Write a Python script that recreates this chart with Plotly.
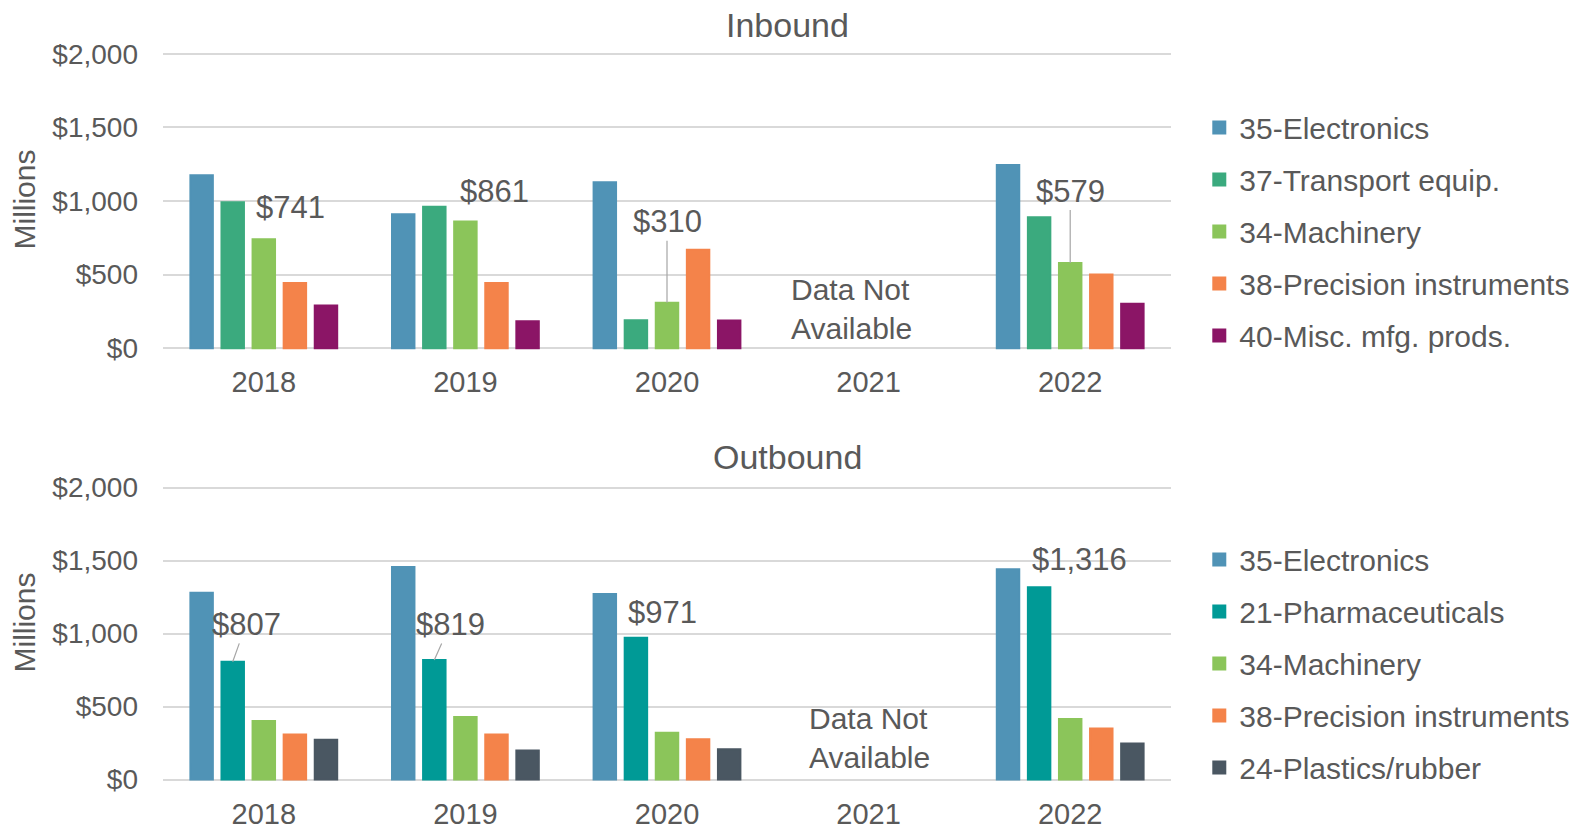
import plotly.graph_objects as go

years = ["2018", "2019", "2020", "2021", "2022"]

# Inbound (millions of dollars)
in_names = ["35-Electronics", "37-Transport equip.", "34-Machinery",
            "38-Precision instruments", "40-Misc. mfg. prods."]
in_electronics = [1176, 911, 1128, None, 1244]
in_transport = [992, 961, 190, None, 890]
in_machinery = [741, 861, 310, None, 579]
in_precision = [444, 444, 669, None, 501]
in_misc = [290, 183, 188, None, 302]
in_colors = ["#5093B6", "#3BAA7E", "#8BC55A", "#F4834A", "#8B1566"]

# Outbound (millions of dollars)
out_names = ["35-Electronics", "21-Pharmaceuticals", "34-Machinery",
             "38-Precision instruments", "24-Plastics/rubber"]
out_electronics = [1279, 1456, 1270, None, 1440]
out_pharma = [807, 819, 971, None, 1316]
out_machinery = [400, 428, 320, None, 414]
out_precision = [309, 309, 275, None, 350]
out_plastics = [272, 199, 208, None, 247]
out_colors = ["#5093B6", "#009A96", "#8BC55A", "#F4834A", "#4A5762"]

y_ticks = [0, 500, 1000, 1500, 2000]
y_ticktext = ["${:,}".format(v) for v in y_ticks]

FONT = "Liberation Sans, Arial, sans-serif"
GREY = "#595959"
W, H = 1592, 825
OFF = 8  # page body margin offset
L_PIX, R_PIX = 162.5, 1170.7
L = L_PIX - OFF
R = W - (R_PIX - OFF)

BARGAP = 0.229
BGG = 0.277
LINEW = 2

fig = go.Figure()

in_series = [in_electronics, in_transport, in_machinery, in_precision, in_misc]
out_series = [out_electronics, out_pharma, out_machinery, out_precision, out_plastics]

for i, (name, vals, col) in enumerate(zip(in_names, in_series, in_colors)):
    fig.add_trace(go.Bar(x=years, y=vals, name=name,
                         marker=dict(color=col, line=dict(width=LINEW, color=col)),
                         xaxis="x", yaxis="y", legend="legend", legendgroup="in%d" % i,
                         hoverinfo="x+y+name"))
for i, (name, vals, col) in enumerate(zip(out_names, out_series, out_colors)):
    fig.add_trace(go.Bar(x=years, y=vals, name=name,
                         marker=dict(color=col, line=dict(width=LINEW, color=col)),
                         xaxis="x2", yaxis="y2", legend="legend2", legendgroup="out%d" % i,
                         hoverinfo="x+y+name"))


def py(pix):
    return (H - (pix - OFF)) / H


def px(pix):
    return (pix - OFF - L) / (W - L - R)


slot = (1 - BARGAP) / 5


def off(i):
    return (i - 2) * slot


def money(v):
    return "${:,.0f}".format(v)


ann = []
afont = dict(family=FONT, size=31, color=GREY)
# Inbound labels
ann.append(dict(x=0 + off(2), y=in_machinery[0], xref="x", yref="y", text=money(in_machinery[0]),
                showarrow=False, xshift=27, yshift=32, font=afont))
ann.append(dict(x=1 + off(2), y=in_machinery[1], xref="x", yref="y", text=money(in_machinery[1]),
                showarrow=False, xshift=29.5, yshift=29.6, font=afont))
ann.append(dict(x=2 + off(2), y=in_machinery[2], xref="x", yref="y", text=money(in_machinery[2]),
                showarrow=True, arrowhead=0, arrowwidth=1.2, arrowcolor="#A6A6A6",
                ax=0, ay=-81, font=afont, standoff=0))
ann.append(dict(x=4 + off(2), y=in_machinery[4], xref="x", yref="y", text=money(in_machinery[4]),
                showarrow=True, arrowhead=0, arrowwidth=1.2, arrowcolor="#A6A6A6",
                ax=0, ay=-72, font=afont, standoff=0))
# Outbound labels
ann.append(dict(x=0 + off(1), y=out_pharma[0], xref="x2", yref="y2", text=money(out_pharma[0]),
                showarrow=True, arrowhead=0, arrowwidth=1.2, arrowcolor="#A6A6A6",
                ax=13.4, ay=-37.3, font=afont, standoff=0))
ann.append(dict(x=1 + off(1), y=out_pharma[1], xref="x2", yref="y2", text=money(out_pharma[1]),
                showarrow=True, arrowhead=0, arrowwidth=1.2, arrowcolor="#A6A6A6",
                ax=15.8, ay=-35.5, font=afont, standoff=0))
ann.append(dict(x=2 + off(1), y=out_pharma[2], xref="x2", yref="y2", text=money(out_pharma[2]),
                showarrow=False, xshift=26.4, yshift=25.5, font=afont))
ann.append(dict(x=4 + off(1), y=out_pharma[4], xref="x2", yref="y2", text=money(out_pharma[4]),
                showarrow=False, xshift=40.3, yshift=28, font=afont))

# Data not available
nfont = dict(family=FONT, size=30, color=GREY)
ann.append(dict(x=3, y=270, xref="x", yref="y", text="Data Not<br>Available", showarrow=False,
                xshift=-17.4, font=nfont, align="left"))
ann.append(dict(x=3, y=284, xref="x2", yref="y2", text="Data Not<br>Available", showarrow=False,
                xshift=1, font=nfont, align="left"))

# Titles
tfont = dict(family=FONT, size=34, color=GREY)
ann.append(dict(x=px(787), y=py(25.4), xref="paper", yref="paper", text="Inbound",
                showarrow=False, font=tfont, xanchor="center", yanchor="middle"))
ann.append(dict(x=px(787), y=py(457), xref="paper", yref="paper", text="Outbound",
                showarrow=False, font=tfont, xanchor="center", yanchor="middle"))
# Axis titles
mfont = dict(family=FONT, size=30, color=GREY)
ann.append(dict(x=px(23), y=py(200), xref="paper", yref="paper", text="Millions",
                showarrow=False, font=mfont, textangle=-90, xanchor="center", yanchor="middle"))
ann.append(dict(x=px(23), y=py(623), xref="paper", yref="paper", text="Millions",
                showarrow=False, font=mfont, textangle=-90, xanchor="center", yanchor="middle"))

# pad range by 2px each side so the end gridlines are drawn
PAD_PX = 2.0
in_top, in_bot = 53.8, 348.3
out_top, out_bot = 487.5, 779.5
in_pad = PAD_PX * 2000 / (in_bot - in_top)
out_pad = PAD_PX * 2000 / (out_bot - out_top)

yaxis_common = dict(tickvals=y_ticks, ticktext=y_ticktext,
                    showgrid=True, gridcolor="#D9D9D9", gridwidth=1.5, zeroline=False,
                    showline=False, ticks="", ticklabelstandoff=24,
                    tickfont=dict(family=FONT, size=28, color=GREY), fixedrange=True)
xaxis_common = dict(type="category", categoryorder="array", categoryarray=years,
                    showgrid=False, zeroline=False, showline=False, ticks="",
                    ticklabelstandoff=12, tickfont=dict(family=FONT, size=29, color=GREY),
                    range=[-0.5, 4.5], fixedrange=True)

legend_common = dict(font=dict(family=FONT, size=30, color=GREY), xref="paper", yref="paper",
                     xanchor="left", yanchor="middle", bgcolor="rgba(0,0,0,0)",
                     traceorder="grouped", tracegroupgap=10, itemclick=False, itemdoubleclick=False)

fig.update_layout(
    width=W, height=H,
    margin=dict(l=L, r=R, t=0, b=0, autoexpand=False),
    paper_bgcolor="white", plot_bgcolor="white",
    barmode="group", bargap=BARGAP, bargroupgap=BGG,
    font=dict(family=FONT, color=GREY),
    xaxis=dict(domain=[0, 1], anchor="y", **xaxis_common),
    yaxis=dict(domain=[py(in_bot + PAD_PX), py(in_top - PAD_PX)], anchor="x",
               range=[-in_pad, 2000 + in_pad], **yaxis_common),
    xaxis2=dict(domain=[0, 1], anchor="y2", **xaxis_common),
    yaxis2=dict(domain=[py(out_bot + PAD_PX), py(out_top - PAD_PX)], anchor="x2",
                range=[-out_pad, 2000 + out_pad], **yaxis_common),
    legend=dict(x=px(1199), y=py(231.5), **legend_common),
    legend2=dict(x=px(1199), y=py(663.5), **legend_common),
    annotations=ann,
    showlegend=True,
)

fig.write_html("out.html")
